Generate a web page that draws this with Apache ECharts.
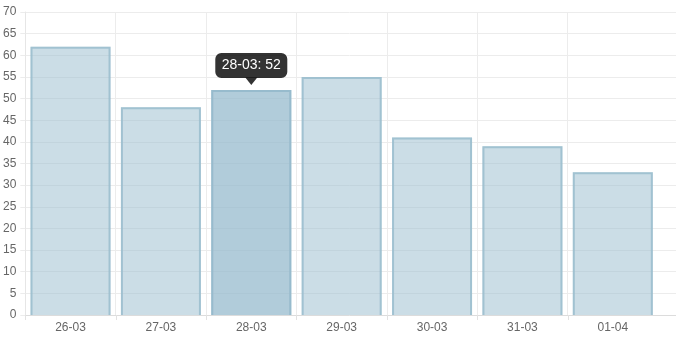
<!DOCTYPE html>
<html>
<head>
<meta charset="utf-8">
<script src="https://cdn.jsdelivr.net/npm/echarts@6/dist/echarts.min.js"></script>
<style>
html,body{margin:0;padding:0;background:#fff;}
#c{width:676px;height:338px;}
</style>
</head>
<body>
<div id="c"></div>
<script>
var categories = ['26-03', '27-03', '28-03', '29-03', '30-03', '31-03', '01-04'];
var values = [62, 48, 52, 55, 41, 39, 33];
var highlightIndex = 2;
var yMin = 0, yMax = 70, yStep = 5;

var chart = echarts.init(document.getElementById('c'), null, {renderer: 'canvas'});
var font = '"Liberation Sans", Arial, Helvetica, sans-serif';
var gridColor = '#ececec';

var barData = values.map(function (v, i) {
  return {
    value: v,
    itemStyle: { color: i === highlightIndex ? 'rgba(151,187,205,0.75)' : 'rgba(151,187,205,0.5)' }
  };
});
var outlineData = values.map(function (v, i) { return [i, v]; });

chart.setOption({
  animation: false,
  grid: [
    { left: 23, right: 18, top: 12, bottom: 23, containLabel: false },
    { left: 23, right: 0, top: 12, bottom: 23, containLabel: false }
  ],
  xAxis: [
    {
      type: 'category', gridIndex: 0, data: categories, boundaryGap: true,
      axisLine: { show: false },
      axisTick: { show: false },
      axisLabel: { color: '#666', fontSize: 12, fontFamily: font, margin: 7 },
      splitLine: { show: true, showMinLine: false, showMaxLine: false, lineStyle: { color: gridColor } }
    },
    {
      type: 'value', gridIndex: 1, min: 0, max: 1,
      axisLine: { show: true, onZero: false, lineStyle: { color: '#dcdcdc' } },
      axisTick: { show: false }, axisLabel: { show: false }, splitLine: { show: false }
    }
  ],
  yAxis: [
    {
      type: 'value', gridIndex: 0, min: yMin, max: yMax, interval: yStep,
      axisLine: { show: true, lineStyle: { color: '#e6e6e6' } },
      axisTick: { show: true, length: 5, lineStyle: { color: gridColor } },
      axisLabel: { color: '#666', fontSize: 12, fontFamily: font, margin: 9 },
      splitLine: { show: false }
    },
    {
      type: 'value', gridIndex: 1, min: yMin, max: yMax, interval: yStep,
      axisLine: { show: false }, axisTick: { show: false }, axisLabel: { show: false },
      splitLine: { show: true, lineStyle: { color: gridColor } }
    }
  ],
  series: [
    {
      type: 'bar', xAxisIndex: 0, yAxisIndex: 0,
      data: barData, barWidth: '88.5%', z: 3,
      itemStyle: { borderWidth: 0 }
    },
    {
      type: 'custom', xAxisIndex: 0, yAxisIndex: 0, z: 4, clip: false,
      data: outlineData,
      renderItem: function (params, api) {
        var idx = api.value(0), val = api.value(1);
        var top = api.coord([idx, val]);
        var base = api.coord([idx, 0]);
        var band = api.size([1, 0])[0];
        var bw = band * 0.885;
        var cx = top[0], yt = top[1], yb = base[1];
        var l = cx - bw / 2 + 1, r = cx + bw / 2 - 1;
        var tx = Math.round(cx - band / 2) + 0.5;
        var hl = params.dataIndex === highlightIndex;
        var children = [{
          type: 'line',
          shape: { x1: tx, y1: yb, x2: tx, y2: yb + 5 },
          style: { stroke: '#e2e2e2', lineWidth: 1 }
        }, {
          type: 'polyline',
          shape: { points: [[l, yb], [l, yt + 1], [r, yt + 1], [r, yb]] },
          style: { stroke: hl ? 'rgba(151,187,205,1)' : 'rgba(151,187,205,0.8)', lineWidth: 2, fill: null }
        }];
        if (hl) {
          var label = categories[params.dataIndex] + ': ' + val;
          children.push({
            type: 'rect',
            shape: { x: cx - 36, y: yt - 37, width: 72, height: 25, r: 6 },
            style: { fill: 'rgba(0,0,0,0.8)' }
          });
          children.push({
            type: 'polygon',
            shape: { points: [[cx - 6, yt - 12.5], [cx + 6, yt - 12.5], [cx, yt - 5]] },
            style: { fill: 'rgba(0,0,0,0.8)' }
          });
          children.push({
            type: 'text',
            style: {
              x: cx, y: yt - 24.5, text: label, fill: '#fff',
              font: '14px ' + font, align: 'center', verticalAlign: 'middle'
            }
          });
        }
        return { type: 'group', children: children };
      }
    }
  ]
});
</script>
</body>
</html>
